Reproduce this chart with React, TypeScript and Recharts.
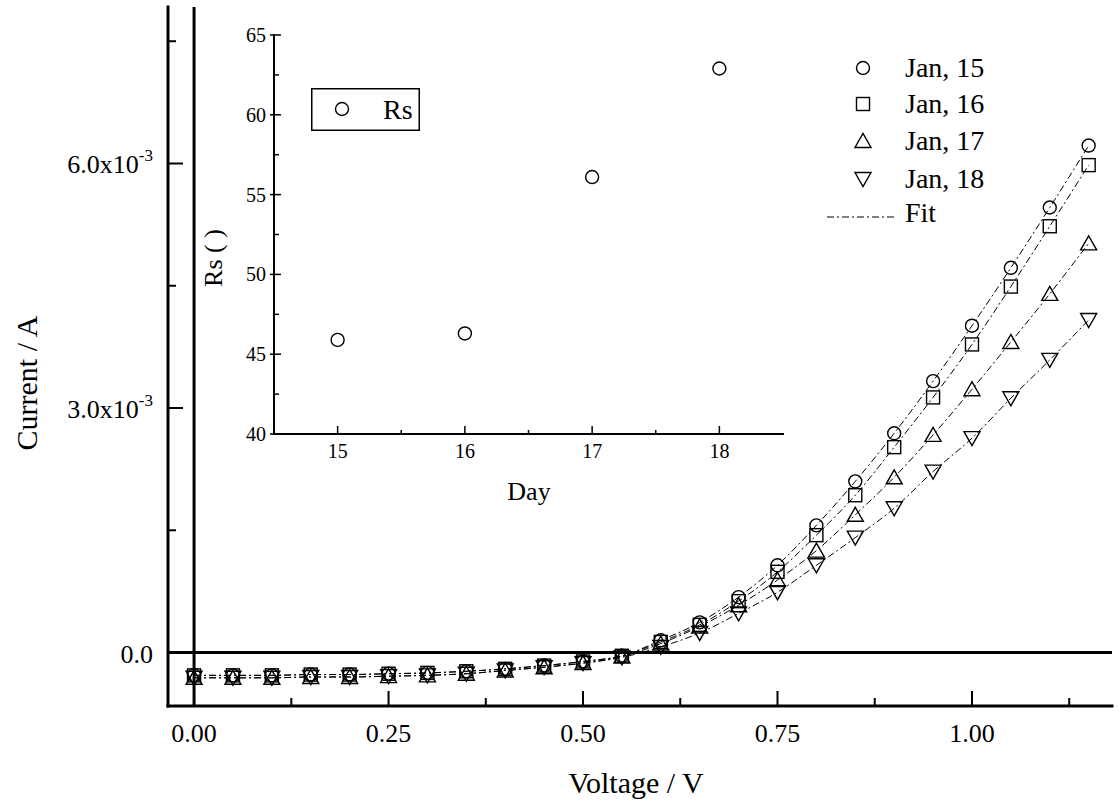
import React from "react";
import { ComposedChart, Line, XAxis, YAxis, ReferenceLine, Legend } from "recharts";

const FONT = '"Liberation Serif", "DejaVu Serif", "Times New Roman", Times, serif';
const txt = { fontFamily: FONT };

// main chart data (current in units of 1e-3 A)
const voltage = [0, 0.05, 0.1, 0.15, 0.2, 0.25, 0.3, 0.35, 0.4, 0.45, 0.5, 0.55, 0.6, 0.65, 0.7, 0.75, 0.8, 0.85, 0.9, 0.95, 1.0, 1.05, 1.1, 1.15];
const jan15 = [-0.28, -0.28, -0.28, -0.27, -0.27, -0.26, -0.25, -0.23, -0.2, -0.16, -0.11, -0.04, 0.15, 0.37, 0.68, 1.07, 1.56, 2.1, 2.69, 3.33, 4.01, 4.72, 5.46, 6.22];
const jan16 = [-0.28, -0.28, -0.28, -0.27, -0.27, -0.26, -0.25, -0.23, -0.2, -0.16, -0.11, -0.04, 0.13, 0.34, 0.63, 0.99, 1.44, 1.93, 2.52, 3.13, 3.78, 4.49, 5.23, 5.98];
const jan17 = [-0.31, -0.31, -0.31, -0.3, -0.3, -0.29, -0.28, -0.26, -0.22, -0.18, -0.13, -0.05, 0.11, 0.32, 0.58, 0.89, 1.25, 1.69, 2.15, 2.67, 3.23, 3.81, 4.4, 5.02];
const jan18 = [-0.31, -0.31, -0.31, -0.3, -0.3, -0.29, -0.28, -0.26, -0.22, -0.18, -0.13, -0.06, 0.07, 0.24, 0.48, 0.74, 1.07, 1.41, 1.77, 2.22, 2.63, 3.12, 3.59, 4.08];

const seriesNames = ["Jan, 15", "Jan, 16", "Jan, 17", "Jan, 18"];
const seriesShapes = ["circle", "square", "up", "down"];

const xTicks = [0, 0.125, 0.25, 0.375, 0.5, 0.625, 0.75, 0.875, 1, 1.125];
const xMajor = [0, 0.25, 0.5, 0.75, 1];
const xMajorLabels = ["0.00", "0.25", "0.50", "0.75", "1.00"];

const yTicks = [0, 0.0015, 0.003, 0.0045, 0.006, 0.0075];
const yMajor = [0, 0.003, 0.006];
const yMajorLabels = ["0.0", "3.0x10", "6.0x10"];
const yMajorExp = ["", "-3", "-3"];

// inset data
const rsDays = [15, 16, 17, 18];
const rsValues = [45.9, 46.3, 56.1, 62.9];

const dayTicks = [15, 15.5, 16, 16.5, 17, 17.5, 18];
const dayMajor = [15, 16, 17, 18];
const rsTicks = [40, 42.5, 45, 47.5, 50, 52.5, 55, 57.5, 60, 62.5, 65];
const rsMajor = [40, 45, 50, 55, 60, 65];

const rows = voltage.map((v, i) => ({
  v,
  j15: jan15[i] * 1e-3,
  j16: jan16[i] * 1e-3,
  j17: jan17[i] * 1e-3,
  j18: jan18[i] * 1e-3,
}));
const rsRows = rsDays.map((d, i) => ({ day: d, rs: rsValues[i] }));

const idx = (list: number[], v: number) => list.findIndex((t) => Math.abs(t - v) < 1e-9);

const Marker = ({ shape, cx, cy }: { shape: string; cx: number; cy: number }) => {
  const common = { fill: "none", stroke: "#000", strokeWidth: 1.4 };
  if (shape === "circle") return <circle cx={cx} cy={cy} r={6.5} {...common} />;
  if (shape === "square") return <rect x={cx - 6.5} y={cy - 6.5} width={13} height={13} {...common} />;
  if (shape === "up") return <polygon points={`${cx - 8},${cy + 6.5} ${cx + 8},${cy + 6.5} ${cx},${cy - 7.5}`} {...common} />;
  return <polygon points={`${cx - 8},${cy - 6.5} ${cx + 8},${cy - 6.5} ${cx},${cy + 7.5}`} {...common} />;
};

const renderDot = (shape: string) => (p: any) => {
  if (p.cx == null || p.cy == null) return <g key={`e-${shape}-${p.index}`} />;
  return <Marker key={`d-${shape}-${p.index}`} shape={shape} cx={p.cx} cy={p.cy} />;
};

// main axis ticks (all pointing inward)
const BottomTick = (p: any) => {
  const { x, y, payload } = p;
  const k = idx(xMajor, payload.value);
  return (
    <g>
      <line x1={x} x2={x} y1={y} y2={y - (k >= 0 ? 15 : 8)} stroke="#000" strokeWidth={2} />
      {k >= 0 && (
        <text x={x} y={y + 36} textAnchor="middle" fontSize={26} style={txt} fill="#000">
          {xMajorLabels[k]}
        </text>
      )}
    </g>
  );
};

const TopTick = (p: any) => {
  const { x, y, payload } = p;
  const k = idx(xMajor, payload.value);
  return <line x1={x} x2={x} y1={y} y2={y + (k >= 0 ? 15 : 8)} stroke="#000" strokeWidth={2} />;
};

const LeftTick = (p: any) => {
  const { x, y, payload } = p;
  const k = idx(yMajor, payload.value);
  return (
    <g>
      <line x1={x} x2={x + (k >= 0 ? 15 : 8)} y1={y} y2={y} stroke="#000" strokeWidth={2} />
      {k >= 0 && (
        <text x={x - 15} y={y + 10} textAnchor="end" fontSize={26} style={txt} fill="#000">
          <tspan>{yMajorLabels[k]}</tspan>
          {yMajorExp[k] && (
            <tspan dy={-12} fontSize={17}>
              {yMajorExp[k]}
            </tspan>
          )}
        </text>
      )}
    </g>
  );
};

const RightTick = (p: any) => {
  const { x, y, payload } = p;
  const k = idx(yMajor, payload.value);
  return <line x1={x} x2={x - (k >= 0 ? 15 : 8)} y1={y} y2={y} stroke="#000" strokeWidth={2} />;
};

// inset axis ticks
const InBottomTick = (p: any) => {
  const { x, y, payload } = p;
  const k = idx(dayMajor, payload.value);
  return (
    <g>
      <line x1={x} x2={x} y1={y} y2={y - (k >= 0 ? 8 : 4)} stroke="#000" strokeWidth={1.5} />
      {k >= 0 && (
        <text x={x} y={y + 24} textAnchor="middle" fontSize={20} style={txt} fill="#000">
          {dayMajor[k]}
        </text>
      )}
    </g>
  );
};

const InTopTick = (p: any) => {
  const { x, y, payload } = p;
  const k = idx(dayMajor, payload.value);
  return <line x1={x} x2={x} y1={y} y2={y + (k >= 0 ? 8 : 5)} stroke="#000" strokeWidth={1.5} />;
};

const InLeftTick = (p: any) => {
  const { x, y, payload } = p;
  const k = idx(rsMajor, payload.value);
  return (
    <g>
      <line x1={k >= 0 ? x - 4 : x} x2={x + (k >= 0 ? 7 : 5)} y1={y} y2={y} stroke="#000" strokeWidth={1.5} />
      {k >= 0 && (
        <text x={x - 8} y={y + 7} textAnchor="end" fontSize={20} style={txt} fill="#000">
          {rsMajor[k]}
        </text>
      )}
    </g>
  );
};

const InRightTick = (p: any) => {
  const { x, y, payload } = p;
  const k = idx(rsMajor, payload.value);
  return <line x1={x} x2={x - (k >= 0 ? 7 : 4)} y1={y} y2={y} stroke="#000" strokeWidth={1.5} />;
};

const MainLegend = () => (
  <svg width={200} height={190} style={{ display: "block" }}>
    {seriesNames.map((name, i) => {
      const base = [32, 68, 105, 143][i];
      return (
        <g key={name}>
          <Marker shape={seriesShapes[i]} cx={43} cy={base - 9} />
          <text x={85} y={base} fontSize={28} style={txt} fill="#000">
            {name}
          </text>
        </g>
      );
    })}
    <line x1={7} x2={77} y1={172} y2={172} stroke="#000" strokeWidth={1} strokeDasharray="7 3 2 3" />
    <text x={85} y={177} fontSize={28} style={txt} fill="#000">
      Fit
    </text>
  </svg>
);

const InsetLegend = () => (
  <svg width={110} height={44} style={{ display: "block" }}>
    <rect x={0.75} y={0.75} width={107.5} height={41.5} fill="#fff" stroke="#000" strokeWidth={1.5} />
    <Marker shape="circle" cx={31} cy={21} />
    <text x={72} y={31} fontSize={28} style={txt} fill="#000">
      Rs
    </text>
  </svg>
);

const lineKeys = ["j15", "j16", "j17", "j18"];

export default function App() {
  return (
    <div style={{ position: "absolute", left: 0, top: 0, width: 1119, height: 807, background: "#fff", fontFamily: FONT }}>
      <ComposedChart width={1119} height={807} data={rows} margin={{ top: 7, right: 7, left: 0, bottom: 0 }}>
        <XAxis
          xAxisId="b"
          dataKey="v"
          type="number"
          domain={[-0.0335, 1.18]}
          allowDataOverflow
          ticks={xTicks}
          interval={0}
          tick={<BottomTick />}
          tickLine={false}
          tickSize={0}
          tickMargin={0}
          height={101}
          axisLine={{ stroke: "#000", strokeWidth: 3, strokeLinecap: "square" }}
          label={{
            content: () => (
              <text x={636} y={793} textAnchor="middle" fontSize={30} style={txt} fill="#000">
                Voltage / V
              </text>
            ),
          }}
        />
        <XAxis
          xAxisId="t"
          orientation="top"
          type="number"
          domain={[-0.0335, 1.18]}
          allowDataOverflow
          ticks={xTicks}
          interval={0}
          tick={<TopTick />}
          tickLine={false}
          tickSize={0}
          tickMargin={0}
          height={0}
          axisLine={{ stroke: "#000", strokeWidth: 3, strokeLinecap: "square" }}
        />
        <YAxis
          yAxisId="l"
          type="number"
          domain={[-0.000656, 0.00792]}
          allowDataOverflow
          ticks={yTicks}
          interval={0}
          tick={<LeftTick />}
          tickLine={false}
          tickSize={0}
          tickMargin={0}
          width={168}
          axisLine={{ stroke: "#000", strokeWidth: 3, strokeLinecap: "square" }}
          label={{
            content: () => (
              <text x={37} y={383} transform="rotate(-90 37 383)" textAnchor="middle" fontSize={30} style={txt} fill="#000">
                Current / A
              </text>
            ),
          }}
        />
        <YAxis
          yAxisId="r"
          orientation="right"
          type="number"
          domain={[-0.000656, 0.00792]}
          allowDataOverflow
          ticks={yTicks}
          interval={0}
          tick={<RightTick />}
          tickLine={false}
          tickSize={0}
          tickMargin={0}
          width={0}
          axisLine={{ stroke: "#000", strokeWidth: 3, strokeLinecap: "square" }}
        />
        <ReferenceLine xAxisId="b" yAxisId="l" x={0} stroke="#000" strokeWidth={3} />
        <ReferenceLine xAxisId="b" yAxisId="l" y={0} stroke="#000" strokeWidth={3} />
        {lineKeys.map((k, i) => (
          <Line
            key={k}
            xAxisId="b"
            yAxisId="l"
            dataKey={k}
            name={seriesNames[i]}
            type="monotone"
            stroke="#000"
            strokeWidth={1}
            strokeDasharray="7 3 2 3"
            dot={renderDot(seriesShapes[i])}
            activeDot={false}
            isAnimationActive={false}
          />
        ))}
        <Legend
          layout="horizontal"
          verticalAlign="middle"
          align="center"
          content={() => <MainLegend />}
          wrapperStyle={{ left: 820, top: 45, width: 200, height: 190 }}
        />
      </ComposedChart>

      <div style={{ position: "absolute", left: 200, top: 0, width: 620, height: 520 }}>
        <ComposedChart width={620} height={520} data={rsRows} margin={{ top: 35, right: 37, left: 0, bottom: 0 }}>
          <XAxis
            xAxisId="b"
            dataKey="day"
            type="number"
            domain={[14.5, 18.5]}
            allowDataOverflow
            ticks={dayTicks}
            interval={0}
            tick={<InBottomTick />}
            tickLine={false}
            tickSize={0}
            tickMargin={0}
            height={86}
            axisLine={{ stroke: "#000", strokeWidth: 2, strokeLinecap: "square" }}
            label={{
              content: () => (
                <text x={329} y={500} textAnchor="middle" fontSize={26} style={txt} fill="#000">
                  Day
                </text>
              ),
            }}
          />
          <XAxis
            xAxisId="t"
            orientation="top"
            type="number"
            domain={[14.5, 18.5]}
            allowDataOverflow
            ticks={dayTicks}
            interval={0}
            tick={<InTopTick />}
            tickLine={false}
            tickSize={0}
            tickMargin={0}
            height={0}
            axisLine={{ stroke: "#000", strokeWidth: 2, strokeLinecap: "square" }}
          />
          <YAxis
            yAxisId="l"
            type="number"
            domain={[40, 65]}
            allowDataOverflow
            ticks={rsTicks}
            interval={0}
            tick={<InLeftTick />}
            tickLine={false}
            tickSize={0}
            tickMargin={0}
            width={74}
            axisLine={{ stroke: "#000", strokeWidth: 2, strokeLinecap: "square" }}
            label={{
              content: () => (
                <text x={22} y={258} transform="rotate(-90 22 258)" textAnchor="middle" fontSize={26} style={txt} fill="#000">
                  Rs ( )
                </text>
              ),
            }}
          />
          <YAxis
            yAxisId="r"
            orientation="right"
            type="number"
            domain={[40, 65]}
            allowDataOverflow
            ticks={rsTicks}
            interval={0}
            tick={<InRightTick />}
            tickLine={false}
            tickSize={0}
            tickMargin={0}
            width={0}
            axisLine={{ stroke: "#000", strokeWidth: 2, strokeLinecap: "square" }}
          />
          <Line
            xAxisId="b"
            yAxisId="l"
            dataKey="rs"
            name="Rs"
            stroke="none"
            dot={renderDot("circle")}
            activeDot={false}
            isAnimationActive={false}
          />
          <Legend
            layout="horizontal"
            verticalAlign="middle"
            align="center"
            content={() => <InsetLegend />}
            wrapperStyle={{ left: 111, top: 88, width: 110, height: 44 }}
          />
        </ComposedChart>
      </div>
    </div>
  );
}
